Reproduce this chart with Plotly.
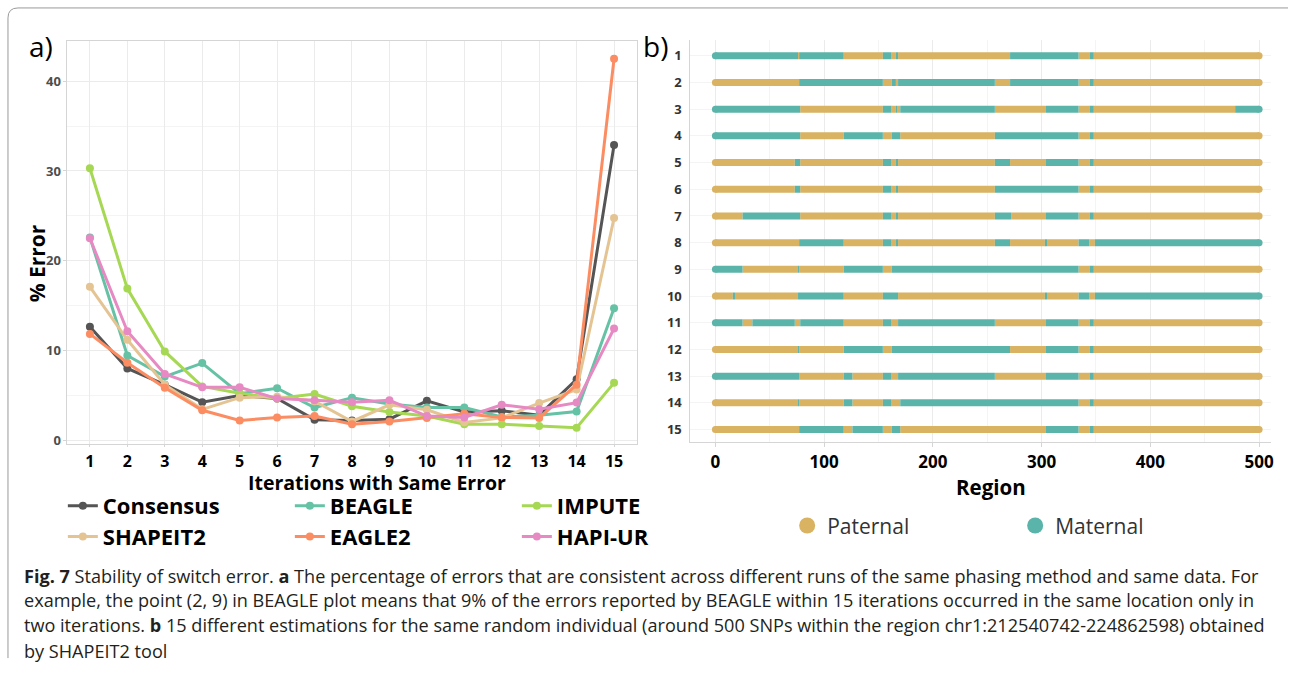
import plotly.graph_objects as go

W, H = 1291, 678

# ---------------- data: panel a ----------------
iterations = list(range(1, 16))
consensus = [12.65, 8.0, 6.2, 4.25, 5.0, 4.65, 2.3, 2.2, 2.35, 4.4, 3.15, 3.3, 2.8, 6.8, 32.9]
beagle = [22.6, 9.45, 7.1, 8.6, 5.2, 5.8, 3.65, 4.75, 4.05, 3.65, 3.65, 2.6, 2.8, 3.2, 14.7]
impute = [30.3, 16.9, 9.9, 6.0, 5.25, 4.65, 5.15, 3.8, 3.15, 2.7, 1.8, 1.8, 1.6, 1.4, 6.4]
shapeit2 = [17.1, 11.2, 6.2, 3.45, 4.75, 4.85, 4.35, 2.1, 3.95, 3.4, 2.0, 2.5, 4.15, 5.65, 24.75]
eagle2 = [11.85, 8.65, 5.85, 3.35, 2.2, 2.55, 2.7, 1.8, 2.1, 2.5, 2.95, 2.55, 2.5, 6.2, 42.5]
hapiur = [22.5, 12.15, 7.4, 5.9, 5.9, 4.65, 4.45, 4.25, 4.45, 2.7, 2.55, 3.95, 3.45, 4.2, 12.45]
y_ticks_a = [0, 10, 20, 30, 40]

# ---------------- data: panel b ----------------
estimations = list(range(1, 16))
region_start, region_end = 0, 500
start_phase = ['M', 'P', 'M', 'M', 'P', 'P', 'P', 'P', 'M', 'P', 'M', 'P', 'M', 'P', 'P']
switch_points = [
    [76, 77, 118, 154, 162, 166, 168, 271, 334, 344, 348],
    [77, 154, 162, 166, 168, 257, 271, 334, 344, 348],
    [78, 154, 162, 166, 167, 170, 257, 304, 334, 344, 348, 478],
    [78, 118, 154, 162, 170, 257, 334, 344, 348],
    [73, 78, 154, 162, 166, 168, 257, 271, 304, 334, 344, 348],
    [73, 78, 154, 162, 166, 168, 257, 334, 344, 348],
    [25, 78, 154, 162, 166, 168, 257, 272, 304, 334, 344, 348],
    [77, 118, 154, 162, 166, 168, 257, 271, 303, 305, 334, 344, 349],
    [25, 76, 77, 118, 154, 162, 334, 344, 348],
    [16, 18, 76, 118, 154, 168, 303, 305, 334, 344, 349],
    [25, 34, 73, 78, 118, 154, 162, 168, 257, 304, 334, 344, 348],
    [76, 77, 118, 154, 162, 271, 304, 334, 344, 348],
    [77, 118, 126, 154, 162, 168, 257, 304, 334, 344, 348],
    [76, 77, 118, 126, 154, 162, 170, 334, 344, 348],
    [77, 118, 126, 154, 162, 170, 304, 334, 344, 348],
]
x_ticks_b = [0, 100, 200, 300, 400, 500]

caption_lines = [
    "<b>Fig. 7</b> Stability of switch error. <b>a</b> The percentage of errors that are consistent across different runs of the same phasing method and same data. For",
    "example, the point (2, 9) in BEAGLE plot means that 9% of the errors reported by BEAGLE within 15 iterations occurred in the same location only in",
    "two iterations. <b>b</b> 15 different estimations for the same random individual (around 500 SNPs within the region chr1:212540742-224862598) obtained",
    "by SHAPEIT2 tool",
]

# ---------------- styles ----------------
series = [
    ("Consensus", consensus, "#555555", "legend"),
    ("BEAGLE", beagle, "#66C2A5", "legend"),
    ("IMPUTE", impute, "#A6D854", "legend"),
    ("SHAPEIT2", shapeit2, "#E5C494", "legend3"),
    ("EAGLE2", eagle2, "#FC8D62", "legend3"),
    ("HAPI-UR", hapiur, "#E78AC3", "legend3"),
]
PAT = "#D9B262"
MAT = "#5AB4AA"
FONT = "Open Sans"
GRID = "#EBEBEB"
MINOR = "#F4F4F4"
AXL = "#D5D5D5"

fig = go.Figure()

for name, vals, col, lg in series:
    fig.add_trace(go.Scatter(
        x=iterations, y=vals, mode="lines+markers", name=name,
        line=dict(color=col, width=3), marker=dict(color=col, size=8),
        xaxis="x", yaxis="y", legend=lg,
    ))

# build segments for panel b
segs = {"P": ([], []), "M": ([], [])}
ends = {"P": ([], []), "M": ([], [])}
for r, ph, sw in zip(estimations, start_phase, switch_points):
    bounds = [region_start] + sw + [region_end]
    cur = ph
    for s, e in zip(bounds[:-1], bounds[1:]):
        xs, ys = segs[cur]
        xs += [s, e, None]
        ys += [r, r, None]
        if s == region_start:
            ends[cur][0].append(s); ends[cur][1].append(r)
        if e == region_end:
            ends[cur][0].append(e); ends[cur][1].append(r)
        cur = "M" if cur == "P" else "P"

for key, col in (("P", PAT), ("M", MAT)):
    fig.add_trace(go.Scatter(x=segs[key][0], y=segs[key][1], mode="lines",
                             line=dict(color=col, width=7), showlegend=False,
                             xaxis="x2", yaxis="y2", hoverinfo="skip"))
    fig.add_trace(go.Scatter(x=ends[key][0], y=ends[key][1], mode="markers",
                             marker=dict(color=col, size=7), showlegend=False,
                             xaxis="x2", yaxis="y2", hoverinfo="skip"))

for name, col in (("Paternal", PAT), ("Maternal", MAT)):
    fig.add_trace(go.Scatter(x=[None], y=[None], mode="markers", name=name,
                             marker=dict(color=col, size=16), xaxis="x2", yaxis="y2",
                             legend="legend2"))

def px_x(p):
    return p / W

def px_y(p):
    return 1 - p / H

fig.update_layout(
    width=W, height=H, margin=dict(l=0, r=0, t=0, b=0),
    paper_bgcolor="white", plot_bgcolor="white",
    font=dict(family=FONT, color="#000000"),
    xaxis=dict(domain=[px_x(67.6), px_x(638)], range=[0.4, 15.6], tickvals=iterations,
               showgrid=True, gridcolor=GRID, zeroline=False,
               showline=True, linecolor=AXL, mirror=True,
               ticks="outside", ticklen=2, tickcolor=AXL,
               tickfont=dict(size=16, family=FONT, weight="bold", color="#000")),
    yaxis=dict(domain=[px_y(447), px_y(41)], range=[-0.45, 44.5], tickvals=y_ticks_a,
               showgrid=True, gridcolor=GRID, zeroline=False,
               minor=dict(dtick=5, showgrid=True, gridcolor=MINOR, tick0=0),
               showline=True, linecolor=AXL, mirror=True,
               ticks="outside", ticklen=3, tickcolor=AXL,
               tickfont=dict(size=13, family=FONT, weight="bold", color="#4D4D4D")),
    xaxis2=dict(domain=[px_x(692), px_x(1274)], anchor="y2", range=[-23, 511], tickvals=x_ticks_b,
                showgrid=True, gridcolor=GRID, zeroline=False,
                minor=dict(dtick=50, showgrid=True, gridcolor=MINOR, tick0=0),
                showline=True, linecolor=AXL, mirror=False,
                ticks="outside", ticklen=4, tickcolor=AXL,
                tickfont=dict(size=17, family=FONT, weight="bold", color="#000")),
    yaxis2=dict(domain=[px_y(445), px_y(40)], anchor="x2", range=[15.48, 0.4], tickvals=estimations,
                showgrid=True, gridcolor=MINOR, zeroline=False,
                showline=True, linecolor=AXL,
                ticks="outside", ticklen=5, tickcolor="rgba(0,0,0,0)",
                tickfont=dict(size=13, family=FONT, weight="bold", color="#333")),
    legend=dict(orientation="h", x=px_x(63), y=px_y(509), xanchor="left", yanchor="middle",
                entrywidth=182, entrywidthmode="pixels", bgcolor="rgba(0,0,0,0)",
                font=dict(size=22, family=FONT, weight="bold", color="#000")),
    legend3=dict(orientation="h", x=px_x(63), y=px_y(540), xanchor="left", yanchor="middle",
                 entrywidth=182, entrywidthmode="pixels", bgcolor="rgba(0,0,0,0)",
                 font=dict(size=22, family=FONT, weight="bold", color="#000")),
    legend2=dict(orientation="h", x=px_x(789), y=px_y(529), xanchor="left", yanchor="middle",
                 entrywidth=183, entrywidthmode="pixels", bgcolor="rgba(0,0,0,0)",
                 font=dict(size=21, family=FONT, color="#333")),
    showlegend=True,
)

annots = [
    dict(text="a)", x=px_x(27), y=px_y(46), xanchor="left", yanchor="middle",
         font=dict(size=28, family=FONT, color="#000")),
    dict(text="b)", x=px_x(642), y=px_y(46), xanchor="left", yanchor="middle",
         font=dict(size=28, family=FONT, color="#000")),
    dict(text="% Error", x=px_x(38), y=px_y(265), xanchor="center", yanchor="middle", textangle=-90,
         font=dict(size=21, family=FONT, weight="bold", color="#000")),
    dict(text="Iterations with Same Error", x=px_x(378), y=px_y(485), xanchor="center", yanchor="middle",
         font=dict(size=19.5, family=FONT, weight="bold", color="#000")),
    dict(text="Region", x=px_x(993), y=px_y(490), xanchor="center", yanchor="middle",
         font=dict(size=20.5, family=FONT, weight="bold", color="#000")),
]
cap_y = [579, 604, 629, 655]
for line, yy in zip(caption_lines, cap_y):
    annots.append(dict(text=line, x=px_x(22), y=px_y(yy), xanchor="left", yanchor="middle",
                       font=dict(size=18.1, family="Open Sans", color="#231F20")))
for a in annots:
    a.update(xref="paper", yref="paper", showarrow=False)
fig.update_layout(annotations=annots)

# frame border
r = 10
path = (f"M {px_x(8)},{px_y(662)} L {px_x(8)},{px_y(8 + r)} "
        f"Q {px_x(8)},{px_y(8)} {px_x(8 + r)},{px_y(8)} L {px_x(1291)},{px_y(8)}")
fig.add_shape(type="path", path=path, xref="paper", yref="paper",
              line=dict(color="#9A9A9A", width=1))

fig.write_html("out.html")
